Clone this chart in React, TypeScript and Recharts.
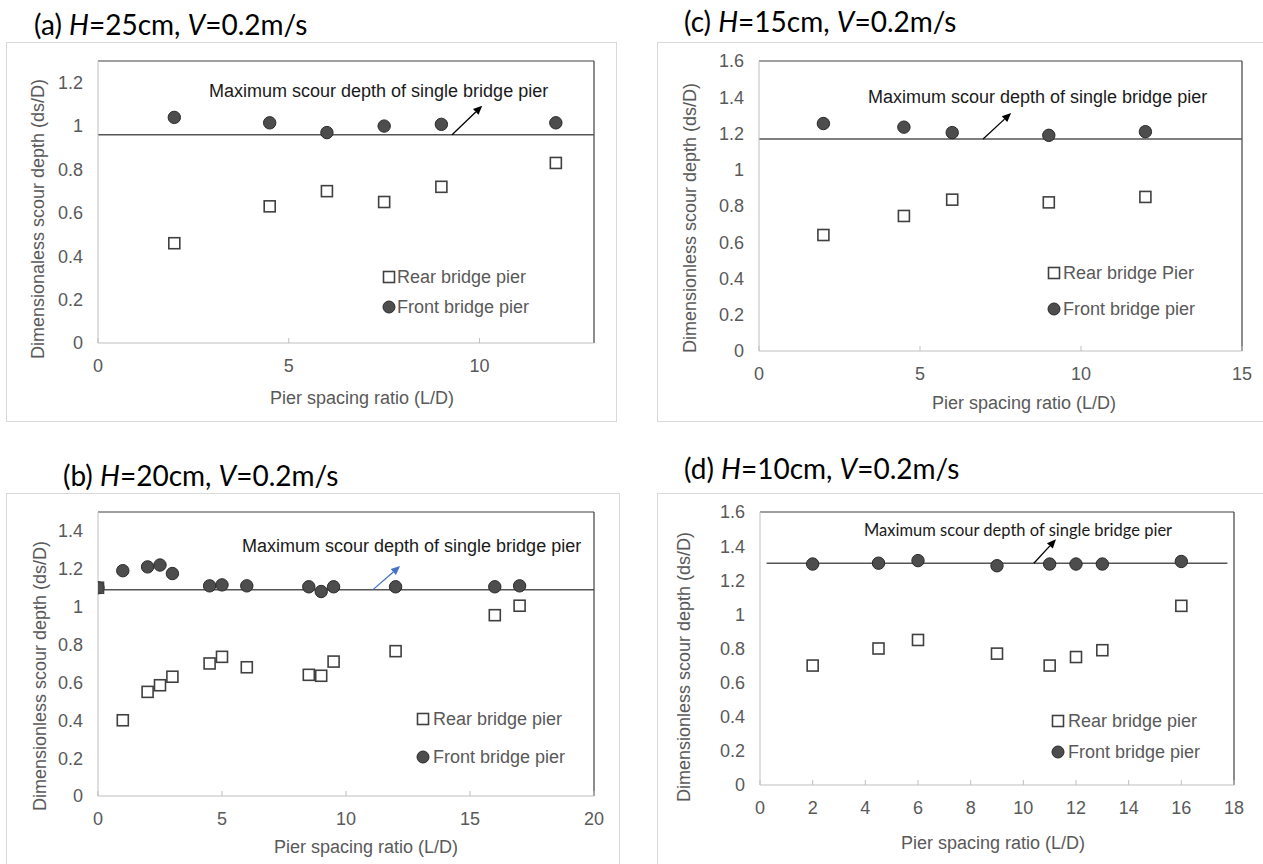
import React from 'react';
import { ScatterChart, Scatter, XAxis, YAxis, ReferenceLine } from 'recharts';

// (a) H=25cm
const aSpacing = [2, 4.5, 6, 7.5, 9, 12];
const aFront = [1.04, 1.015, 0.97, 1.0, 1.008, 1.015];
const aRear = [0.46, 0.63, 0.7, 0.65, 0.72, 0.83];
const aSingle = 0.96;
const aXTicks = [0, 5, 10];
const aYTicks = [0, 0.2, 0.4, 0.6, 0.8, 1, 1.2];

// (b) H=20cm
const bSpacing = [0, 1, 2, 2.5, 3, 4.5, 5, 6, 8.5, 9, 9.5, 12, 16, 17];
const bFront = [1.1, 1.19, 1.21, 1.22, 1.175, 1.11, 1.115, 1.11, 1.105, 1.08, 1.105, 1.105, 1.105, 1.11];
const bRear = [1.1, 0.4, 0.55, 0.585, 0.63, 0.7, 0.735, 0.68, 0.64, 0.635, 0.71, 0.765, 0.955, 1.005];
const bSingle = 1.09;
const bXTicks = [0, 5, 10, 15, 20];
const bYTicks = [0, 0.2, 0.4, 0.6, 0.8, 1, 1.2, 1.4];

// (c) H=15cm
const cSpacing = [2, 4.5, 6, 9, 12];
const cFront = [1.255, 1.235, 1.205, 1.19, 1.21];
const cRear = [0.64, 0.745, 0.835, 0.82, 0.85];
const cSingle = 1.17;
const cXTicks = [0, 5, 10, 15];
const cYTicks = [0, 0.2, 0.4, 0.6, 0.8, 1, 1.2, 1.4, 1.6];

// (d) H=10cm
const dSpacing = [2, 4.5, 6, 9, 11, 12, 13, 16];
const dFront = [1.295, 1.3, 1.315, 1.285, 1.295, 1.295, 1.295, 1.31];
const dRear = [0.7, 0.8, 0.85, 0.77, 0.7, 0.75, 0.79, 1.05];
const dSingle = 1.3;
const dXTicks = [0, 2, 4, 6, 8, 10, 12, 14, 16, 18];
const dYTicks = [0, 0.2, 0.4, 0.6, 0.8, 1, 1.2, 1.4, 1.6];

const NOTE = 'Maximum scour depth of single bridge pier';
const X_TITLE = 'Pier spacing ratio (L/D)';
const Y_W = 60;
const X_H = 30;
const TICK = { fill: '#595959', fontSize: 18, fontFamily: '"Liberation Sans", Arial, sans-serif' };

const toPts = (xs: number[], ys: number[]) => xs.map((x, i) => ({ x, y: ys[i] }));

const SquareDot = (p: any) => (
  <rect x={p.cx - 5.5} y={p.cy - 5.5} width={11} height={11} fill="none" stroke="#404040" strokeWidth={1.6} />
);
const CircleDot = (p: any) => <circle cx={p.cx} cy={p.cy} r={6.2} fill="#4d4d4d" stroke="#2a2a2a" strokeWidth={1} />;

const arrowShape = (color: string) => (p: any) => {
  const { x1, y1, x2, y2 } = p;
  const ang = Math.atan2(y2 - y1, x2 - x1);
  const L = 9, W = 4;
  const bx = x2 - L * Math.cos(ang), by = y2 - L * Math.sin(ang);
  const pts = `${x2},${y2} ${bx - W * Math.sin(ang)},${by + W * Math.cos(ang)} ${bx + W * Math.sin(ang)},${by - W * Math.cos(ang)}`;
  return (
    <g>
      <line x1={x1} y1={y1} x2={bx} y2={by} stroke={color} strokeWidth={1.3} />
      <polygon points={pts} fill={color} />
    </g>
  );
};

function Panel(props: any) {
  const { tag, h, titleX, titleY, frame, plot, xs, front, rear, single, xDomain, yDomain, xTicks, yTicks,
    yTitle, yTitlePos, xTitlePos, note, arrow, arrowColor, legend, lineSeg } = props;
  const margin = {
    top: plot.t - frame.y,
    right: frame.x + frame.w - plot.r,
    left: plot.l - frame.x - Y_W,
    bottom: frame.y + frame.h - plot.b - X_H,
  };
  return (
    <>
      <div style={{ position: 'absolute', left: titleX, top: titleY - 17, fontFamily: 'Lato, sans-serif', fontSize: 28, lineHeight: '34px', color: '#000', whiteSpace: 'nowrap' }}>
        ({tag}) <i>H</i>={h}, <i>V</i>=0.2m/s
      </div>
      <div style={{ position: 'absolute', left: frame.x, top: frame.y, width: frame.w, height: frame.h, border: '1px solid #d9d9d9', boxSizing: 'border-box' }} />
      <div style={{ position: 'absolute', left: frame.x, top: frame.y }}>
        <ScatterChart width={frame.w} height={frame.h} margin={margin}>
          <XAxis type="number" dataKey="x" domain={xDomain} ticks={xTicks} allowDataOverflow
            axisLine={{ stroke: '#bfbfbf' }} tickLine={{ stroke: '#bfbfbf' }} tickSize={-5} tickMargin={21}
            height={X_H} tick={TICK} interval={0} />
          <YAxis type="number" dataKey="y" domain={yDomain} ticks={yTicks} allowDataOverflow
            axisLine={{ stroke: '#bfbfbf' }} tickLine={false} tickSize={0} tickMargin={15}
            width={Y_W} tick={TICK} interval={0} />
          <ReferenceLine y={yDomain[1]} stroke="#404040" strokeWidth={1.2} />
          <ReferenceLine x={xDomain[1]} stroke="#404040" strokeWidth={1.2} />
          {lineSeg ? (
            <ReferenceLine segment={[{ x: lineSeg[0], y: single }, { x: lineSeg[1], y: single }]} stroke="#555" strokeWidth={1.5} />
          ) : (
            <ReferenceLine y={single} stroke="#555" strokeWidth={1.5} />
          )}
          <ReferenceLine segment={[{ x: arrow[0], y: arrow[1] }, { x: arrow[2], y: arrow[3] }]} shape={arrowShape(arrowColor)} />
          <Scatter name="Front bridge pier" data={toPts(xs.front, front)} shape={CircleDot} isAnimationActive={false} />
          <Scatter name="Rear bridge pier" data={toPts(xs.rear, rear)} shape={SquareDot} isAnimationActive={false} />
        </ScatterChart>
      </div>
      <div style={{ position: 'absolute', left: yTitlePos[0], top: yTitlePos[1], transform: 'translate(-50%,-50%) rotate(-90deg)', fontSize: 18, color: '#595959', whiteSpace: 'nowrap' }}>
        {yTitle}
      </div>
      <div style={{ position: 'absolute', left: xTitlePos[0], top: xTitlePos[1], transform: 'translate(-50%,-50%)', fontSize: 18, color: '#595959', whiteSpace: 'nowrap' }}>
        {X_TITLE}
      </div>
      <div style={{ position: 'absolute', left: note.x, top: note.y, transform: 'translateY(-50%)', fontSize: note.size, fontFamily: note.font, color: '#1a1a1a', whiteSpace: 'nowrap' }}>
        {NOTE}
      </div>
      {[{ label: legend.rearLabel, y: legend.y1, dot: 'sq' }, { label: 'Front bridge pier', y: legend.y2, dot: 'ci' }].map((row) => (
        <div key={row.label}>
          <svg style={{ position: 'absolute', left: legend.x - 7, top: row.y - 7 }} width={14} height={14}>
            {row.dot === 'sq'
              ? <rect x={1.5} y={1.5} width={11} height={11} fill="none" stroke="#404040" strokeWidth={1.6} />
              : <circle cx={7} cy={7} r={6} fill="#4d4d4d" stroke="#2a2a2a" strokeWidth={1} />}
          </svg>
          <div style={{ position: 'absolute', left: legend.tx, top: row.y, transform: 'translateY(-50%)', fontSize: 18, color: '#595959', whiteSpace: 'nowrap' }}>
            {row.label}
          </div>
        </div>
      ))}
    </>
  );
}

export default function App() {
  return (
    <div style={{ position: 'absolute', left: 0, top: 0, width: 1263, height: 864, overflow: 'hidden', background: '#fff', fontFamily: '"Liberation Sans", Arial, sans-serif' }}>
      <Panel tag="a" h="25cm" titleX={34} titleY={24}
        frame={{ x: 6, y: 42, w: 611, h: 380 }} plot={{ l: 98, t: 61, r: 594, b: 343 }}
        xs={{ front: aSpacing, rear: aSpacing }} front={aFront} rear={aRear} single={aSingle}
        xDomain={[0, 13]} yDomain={[0, 1.3]} xTicks={aXTicks} yTicks={aYTicks}
        yTitle="Dimensionaless scour depth (ds/D)" yTitlePos={[38, 219]} xTitlePos={[362, 398]}
        note={{ x: 209, y: 91, size: 18, font: '"Liberation Sans", Arial, sans-serif' }}
        arrow={[9.28, aSingle, 10.07, 1.094]} arrowColor="#000"
        legend={{ x: 389, tx: 397, y1: 277, y2: 307, rearLabel: 'Rear bridge pier' }} />
      <Panel tag="c" h="15cm" titleX={684} titleY={21}
        frame={{ x: 657, y: 42, w: 615, h: 380 }} plot={{ l: 759, t: 61, r: 1242, b: 351 }}
        xs={{ front: cSpacing, rear: cSpacing }} front={cFront} rear={cRear} single={cSingle}
        xDomain={[0, 15]} yDomain={[0, 1.6]} xTicks={cXTicks} yTicks={cYTicks}
        yTitle="Dimensionless scour depth (ds/D)" yTitlePos={[690, 218]} xTitlePos={[1024, 403]}
        note={{ x: 868, y: 97, size: 18, font: '"Liberation Sans", Arial, sans-serif' }}
        arrow={[6.96, cSingle, 7.83, 1.313]} arrowColor="#000"
        legend={{ x: 1054, tx: 1063, y1: 273, y2: 309, rearLabel: 'Rear bridge Pier' }} />
      <Panel tag="b" h="20cm" titleX={63} titleY={475}
        frame={{ x: 6, y: 493, w: 614, h: 380 }} plot={{ l: 98, t: 512, r: 594, b: 796 }}
        xs={{ front: bSpacing, rear: bSpacing }} front={bFront} rear={bRear} single={bSingle}
        xDomain={[0, 20]} yDomain={[0, 1.5]} xTicks={bXTicks} yTicks={bYTicks}
        yTitle="Dimensionless scour depth (ds/D)" yTitlePos={[40, 676]} xTitlePos={[366, 847]}
        note={{ x: 242, y: 546, size: 18, font: '"Liberation Sans", Arial, sans-serif' }}
        arrow={[11.09, bSingle, 12.18, 1.215]} arrowColor="#4472C4"
        legend={{ x: 423, tx: 433, y1: 719, y2: 757, rearLabel: 'Rear bridge pier' }} />
      <Panel tag="d" h="10cm" titleX={684} titleY={468}
        frame={{ x: 657, y: 493, w: 615, h: 380 }} plot={{ l: 760, t: 512, r: 1234, b: 785 }}
        xs={{ front: dSpacing, rear: dSpacing }} front={dFront} rear={dRear} single={dSingle}
        xDomain={[0, 18]} yDomain={[0, 1.6]} xTicks={dXTicks} yTicks={dYTicks}
        yTitle="Dimensionless scour depth (ds/D)" yTitlePos={[684, 667]} xTitlePos={[993, 843]}
        note={{ x: 864, y: 530, size: 16.5, font: 'Lato, sans-serif' }}
        arrow={[10.4, dSingle, 11.24, 1.44]} arrowColor="#000" lineSeg={[0.25, 17.75]}
        legend={{ x: 1058, tx: 1068, y1: 721, y2: 752, rearLabel: 'Rear bridge pier' }} />
    </div>
  );
}
